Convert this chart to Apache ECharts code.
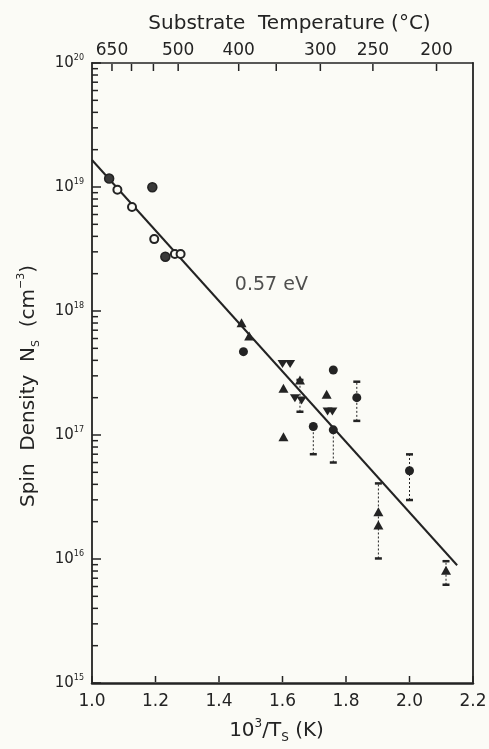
<!DOCTYPE html>
<html><head><meta charset="utf-8">
<script src="https://cdn.jsdelivr.net/npm/echarts@6/dist/echarts.min.js"></script>
<style>html,body{margin:0;padding:0;background:#fbfbf6;}#c{width:489px;height:749px;}</style>
</head><body><div id="c"></div>
<script>
// ---- data ----
const xTicks = [1.0, 1.2, 1.4, 1.6, 1.8, 2.0, 2.2];
const tempLabels = [650, 500, 400, 300, 250, 200];          // °C, labelled
const tempTicks = [650, 600, 550, 500, 400, 350, 300, 250, 200]; // °C, tick marks
const yDecades = [15, 16, 17, 18, 19, 20];
const openCircles = [[1.080, 9.5e18], [1.126, 6.9e18], [1.196, 3.8e18], [1.261, 2.88e18], [1.279, 2.88e18]];
const halfCircles = [[1.054, 1.17e19], [1.190, 9.95e18], [1.231, 2.74e18]];
const filledCircles = [[1.477, 4.7e17], [1.760, 3.34e17], [1.834, 2.0e17], [1.697, 1.17e17], [1.760, 1.1e17], [2.000, 5.15e16]];
const upTriangles = [[1.471, 8.05e17], [1.495, 6.28e17], [1.655, 2.78e17], [1.603, 2.38e17], [1.739, 2.13e17], [1.603, 9.7e16], [1.902, 2.40e16], [1.902, 1.88e16], [2.115, 8.1e15]];
const downTriangles = [[1.600, 3.74e17], [1.624, 3.74e17], [1.639, 1.98e17], [1.660, 1.90e17], [1.742, 1.55e17], [1.757, 1.55e17]];
const errorBars = [[1.655, 1.54e17, 2.78e17], [1.834, 1.30e17, 2.69e17], [1.697, 7.0e16, 1.17e17], [1.760, 6.0e16, 1.1e17], [2.000, 2.99e16, 6.98e16], [1.902, 1.01e16, 4.07e16], [2.115, 6.2e15, 9.6e15]];
const fitLine = [[1.0, 1.65e19], [2.15, 8.9e15]];
const fitLabel = [[1.565, 1.62e18, '0.57 eV']];

// ---- derived ----
const ink = '#232323';
const font = 'DejaVu Sans';
const toInvT = t => 1000 / (t + 273);
const xMin = xTicks[0], xMax = xTicks[xTicks.length - 1];
const yMin = Math.pow(10, yDecades[0]), yMax = Math.pow(10, yDecades[yDecades.length - 1]);
const yTickVals = [];
for (let e = yDecades[0]; e < yDecades[yDecades.length - 1]; e++) {
  for (let m = 1; m <= 9; m++) yTickVals.push(m * Math.pow(10, e));
}
yTickVals.push(yMax);

const tickLine = (x1, y1, x2, y2) => ({type: 'line', shape: {x1, y1, x2, y2}, style: {stroke: ink, lineWidth: 1.5}});

const chart = echarts.init(document.getElementById('c'), null, {renderer: 'canvas'});
chart.setOption({
  backgroundColor: '#fbfbf6',
  animation: false,
  textStyle: {fontFamily: font, color: ink},
  grid: {left: 92, right: 16, top: 63, bottom: 66, outerBoundsMode: 'none', containLabel: false},
  xAxis: [{
    type: 'value', position: 'bottom', min: xMin, max: xMax, interval: 0.2,
    axisLine: {show: true, lineStyle: {color: ink, width: 2.5}},
    axisTick: {show: false},
    axisLabel: {show: true, color: ink, fontSize: 17, margin: 10, fontFamily: font, formatter: v => v.toFixed(1)},
    splitLine: {show: false},
    name: '{n|10}{s|3}{n|/T}{u|S}{n| (K)}', nameLocation: 'middle', nameGap: 35,
    nameTextStyle: {padding: [0, 12, 0, 0], rich: {
      n: {fontSize: 20, fontFamily: font, color: ink, lineHeight: 26},
      s: {fontSize: 12, fontFamily: font, color: ink, verticalAlign: 'top', lineHeight: 26},
      u: {fontSize: 12, fontFamily: font, color: ink, verticalAlign: 'bottom', lineHeight: 20}
    }}
  }, {
    type: 'value', position: 'top', min: 1.02, max: 2.23,
    axisLine: {show: true, lineStyle: {color: ink, width: 1.5}},
    axisTick: {show: false},
    axisLabel: {show: true, color: ink, fontSize: 17, margin: 4, fontFamily: font, customValues: tempLabels.map(toInvT),
      formatter: v => String(Math.round(1000 / v - 273))},
    splitLine: {show: false},
    name: 'Substrate  Temperature (°C)', nameLocation: 'middle', nameGap: 29,
    nameTextStyle: {fontSize: 20, fontFamily: font, color: ink, padding: [0, 0, 0, 14]}
  }],
  yAxis: [{
    type: 'log', logBase: 10, position: 'left', min: yMin, max: yMax,
    axisLine: {show: true, lineStyle: {color: ink, width: 1.8}},
    axisTick: {show: false},
    axisLabel: {show: true, margin: 8, formatter: v => '{b|10}{s|' + Math.round(Math.log10(v)) + '}',
      rich: {
        b: {fontSize: 15, fontFamily: font, color: ink, lineHeight: 18},
        s: {fontSize: 8, fontFamily: font, color: ink, verticalAlign: 'top', lineHeight: 18}
      }},
    splitLine: {show: false},
    name: '{n|Spin  Density  N}{u|S}{n|  (cm}{s|−3}{n|)}', nameLocation: 'middle', nameGap: 50, nameRotate: 90,
    nameTextStyle: {padding: [0, 26, 0, 0], rich: {
      n: {fontSize: 20, fontFamily: font, color: ink, lineHeight: 26},
      s: {fontSize: 11, fontFamily: font, color: ink, verticalAlign: 'top', lineHeight: 26},
      u: {fontSize: 11, fontFamily: font, color: ink, verticalAlign: 'bottom', lineHeight: 20}
    }}
  }, {
    type: 'log', logBase: 10, position: 'right', min: yMin, max: yMax,
    axisLine: {show: true, lineStyle: {color: ink, width: 1.8}},
    axisTick: {show: false},
    axisLabel: {show: false},
    splitLine: {show: false}
  }],
  series: [
    // bottom axis ticks (inside)
    {type: 'custom', xAxisIndex: 0, yAxisIndex: 0, silent: true, z: 6, encode: {x: 0, y: 1}, data: xTicks.map(v => [v, yMin]),
      renderItem: (params, api) => {
        const p = api.coord([api.value(0), api.value(1)]);
        return tickLine(p[0], p[1] - 1, p[0], p[1] - 7);
      }},
    // top axis ticks: substrate temperature (inside)
    {type: 'custom', xAxisIndex: 1, yAxisIndex: 0, silent: true, z: 6, encode: {x: 0, y: 1}, data: tempTicks.map(t => [toInvT(t), yMax]),
      renderItem: (params, api) => {
        const p = api.coord([api.value(0), api.value(1)]);
        return tickLine(p[0], p[1] + 1, p[0], p[1] + 8);
      }},
    // left axis ticks: decades + 2..9 minor (inside)
    {type: 'custom', xAxisIndex: 0, yAxisIndex: 0, silent: true, z: 6, encode: {x: 0, y: 1}, data: yTickVals.map(v => [xMin, v]),
      renderItem: (params, api) => {
        const v = api.value(1);
        const lg = Math.log10(v);
        const major = Math.abs(lg - Math.round(lg)) < 1e-6;
        const p = api.coord([api.value(0), v]);
        return tickLine(p[0], p[1], p[0] + (major ? 9 : 6), p[1]);
      }},
    {type: 'line', data: fitLine, symbol: 'none', lineStyle: {color: ink, width: 2}, z: 2, silent: true},
    {type: 'custom', data: errorBars, encode: {x: 0, y: [1, 2]}, z: 3,
      renderItem: (params, api) => {
        const x = api.value(0);
        const lo = api.coord([x, api.value(1)]);
        const hi = api.coord([x, api.value(2)]);
        const cap = 3.5;
        return {type: 'group', children: [
          {type: 'line', shape: {x1: lo[0], y1: lo[1], x2: hi[0], y2: hi[1]}, style: {stroke: ink, lineWidth: 1, lineDash: [2, 2]}},
          {type: 'line', shape: {x1: lo[0] - cap, y1: lo[1], x2: lo[0] + cap, y2: lo[1]}, style: {stroke: ink, lineWidth: 2.5}},
          {type: 'line', shape: {x1: hi[0] - cap, y1: hi[1], x2: hi[0] + cap, y2: hi[1]}, style: {stroke: ink, lineWidth: 2.5}}
        ]};
      }},
    {type: 'scatter', data: openCircles, symbol: 'circle', symbolSize: 8, z: 4,
      itemStyle: {color: '#fbfbf6', borderColor: ink, borderWidth: 2, opacity: 1}},
    {type: 'scatter', data: halfCircles, symbol: 'circle', symbolSize: 9, z: 4,
      itemStyle: {color: '#3a3a3a', borderColor: ink, borderWidth: 1.5, opacity: 1}},
    {type: 'scatter', data: filledCircles, symbol: 'circle', symbolSize: 9, z: 4,
      itemStyle: {color: ink, opacity: 1}},
    {type: 'scatter', data: upTriangles, symbol: 'triangle', symbolSize: [10, 9], z: 4,
      itemStyle: {color: ink, opacity: 1}},
    {type: 'scatter', data: downTriangles, symbol: 'triangle', symbolRotate: 180, symbolSize: [10, 8], z: 4,
      itemStyle: {color: ink, opacity: 1}},
    {type: 'scatter', data: fitLabel, symbolSize: 0, z: 5, silent: true,
      label: {show: true, position: 'inside', formatter: p => p.data[2], fontSize: 19, fontFamily: font, color: ink}}
  ]
});
</script></body></html>
